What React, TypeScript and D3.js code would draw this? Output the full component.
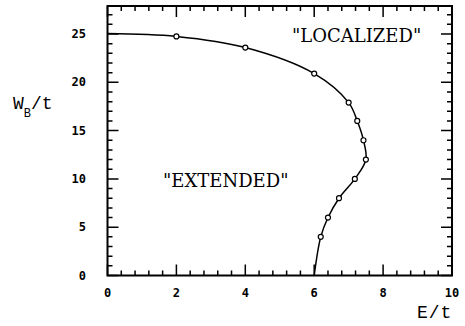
import React from "react";
import * as d3 from "d3";

const energy = [0, 2, 4, 6, 7, 7.25, 7.43, 7.5, 7.18, 6.72, 6.4, 6.19, 6.0];
const wb = [25.05, 24.75, 23.6, 20.9, 17.9, 16, 14, 12, 10, 8, 6, 4, 0];
const markerIdx = [1, 2, 3, 4, 5, 6, 7, 8, 9, 10, 11];
const xMajor = [0, 2, 4, 6, 8, 10];
const yMajor = [0, 5, 10, 15, 20, 25];
const xMinor = [0.4, 0.8, 1.2, 1.6, 2.4, 2.8, 3.2, 3.6, 4.4, 4.8, 5.2, 5.6, 6.4, 6.8, 7.2, 7.6, 8.4, 8.8, 9.2, 9.6];
const yMinor = [1, 2, 3, 4, 6, 7, 8, 9, 11, 12, 13, 14, 16, 17, 18, 19, 21, 22, 23, 24, 26, 27];

export default function App() {
  const W = 465, H = 326;
  const L = 107.5, R = 452, T = 6, B = 275.5;
  const x = d3.scaleLinear().domain([0, 10]).range([L, R]);
  const y = d3.scaleLinear().domain([0, 27.9]).range([B, T]);
  const pts = energy.map((e, i) => [x(e), y(wb[i])] as [number, number]);
  const path = d3.line().curve(d3.curveCatmullRom.alpha(0.5))(pts) || "";
  const major = 11, minor = 5;
  const tickFont = "DejaVu Sans Mono";
  let ticks = "";
  const seg = (x1: number, y1: number, x2: number, y2: number) => {
    ticks += `M${x1},${y1}L${x2},${y2}`;
  };
  xMinor.forEach((v) => {
    seg(x(v), B, x(v), B - minor);
    seg(x(v), T, x(v), T + minor);
  });
  yMinor.forEach((v) => {
    seg(L, y(v), L + minor, y(v));
    seg(R, y(v), R - minor, y(v));
  });
  xMajor.forEach((v) => {
    seg(x(v), B, x(v), B - major);
    seg(x(v), T, x(v), T + major);
  });
  yMajor.forEach((v) => {
    seg(L, y(v), L + major, y(v));
    seg(R, y(v), R - major, y(v));
  });
  const frame = `M${L},${T}L${R},${T}L${R},${B}L${L},${B}Z`;
  return (
    <svg width={W} height={H} style={{ position: "absolute", left: 0, top: 0, background: "#fff" }}>
      <path d={frame} fill="none" stroke="#000" strokeWidth={2} />
      <path d={ticks} fill="none" stroke="#000" strokeWidth={1.5} />
      <path d={path} fill="none" stroke="#000" strokeWidth={1.5} />
      {markerIdx.map((i) => (
        <circle key={"m" + i} cx={x(energy[i])} cy={y(wb[i])} r={2.5} fill="#fff" stroke="#000" strokeWidth={1.2} />
      ))}
      <g fontFamily={tickFont} fontSize={12} fontWeight="bold" fill="#000">
        {xMajor.map((v) => (
          <text key={"xl" + v} x={x(v)} y={297} textAnchor="middle">{v}</text>
        ))}
        {yMajor.map((v) => (
          <text key={"yl" + v} x={86} y={y(v) + 4} textAnchor="end">{v}</text>
        ))}
      </g>
      <text x={417} y={318} fontFamily="Liberation Mono" fontSize={18} letterSpacing={1} fill="#000">E/t</text>
      <text x={13} y={109} fontFamily="Liberation Mono" fontSize={18} fill="#000">
        W<tspan dy={8} fontSize={12}>B</tspan><tspan dy={-8}>/t</tspan>
      </text>
      <text x={292} y={42} fontFamily="DejaVu Serif" fontSize={18} fill="#000">"LOCALIZED"</text>
      <text x={163} y={187} fontFamily="DejaVu Serif" fontSize={18} fill="#000">"EXTENDED"</text>
    </svg>
  );
}
